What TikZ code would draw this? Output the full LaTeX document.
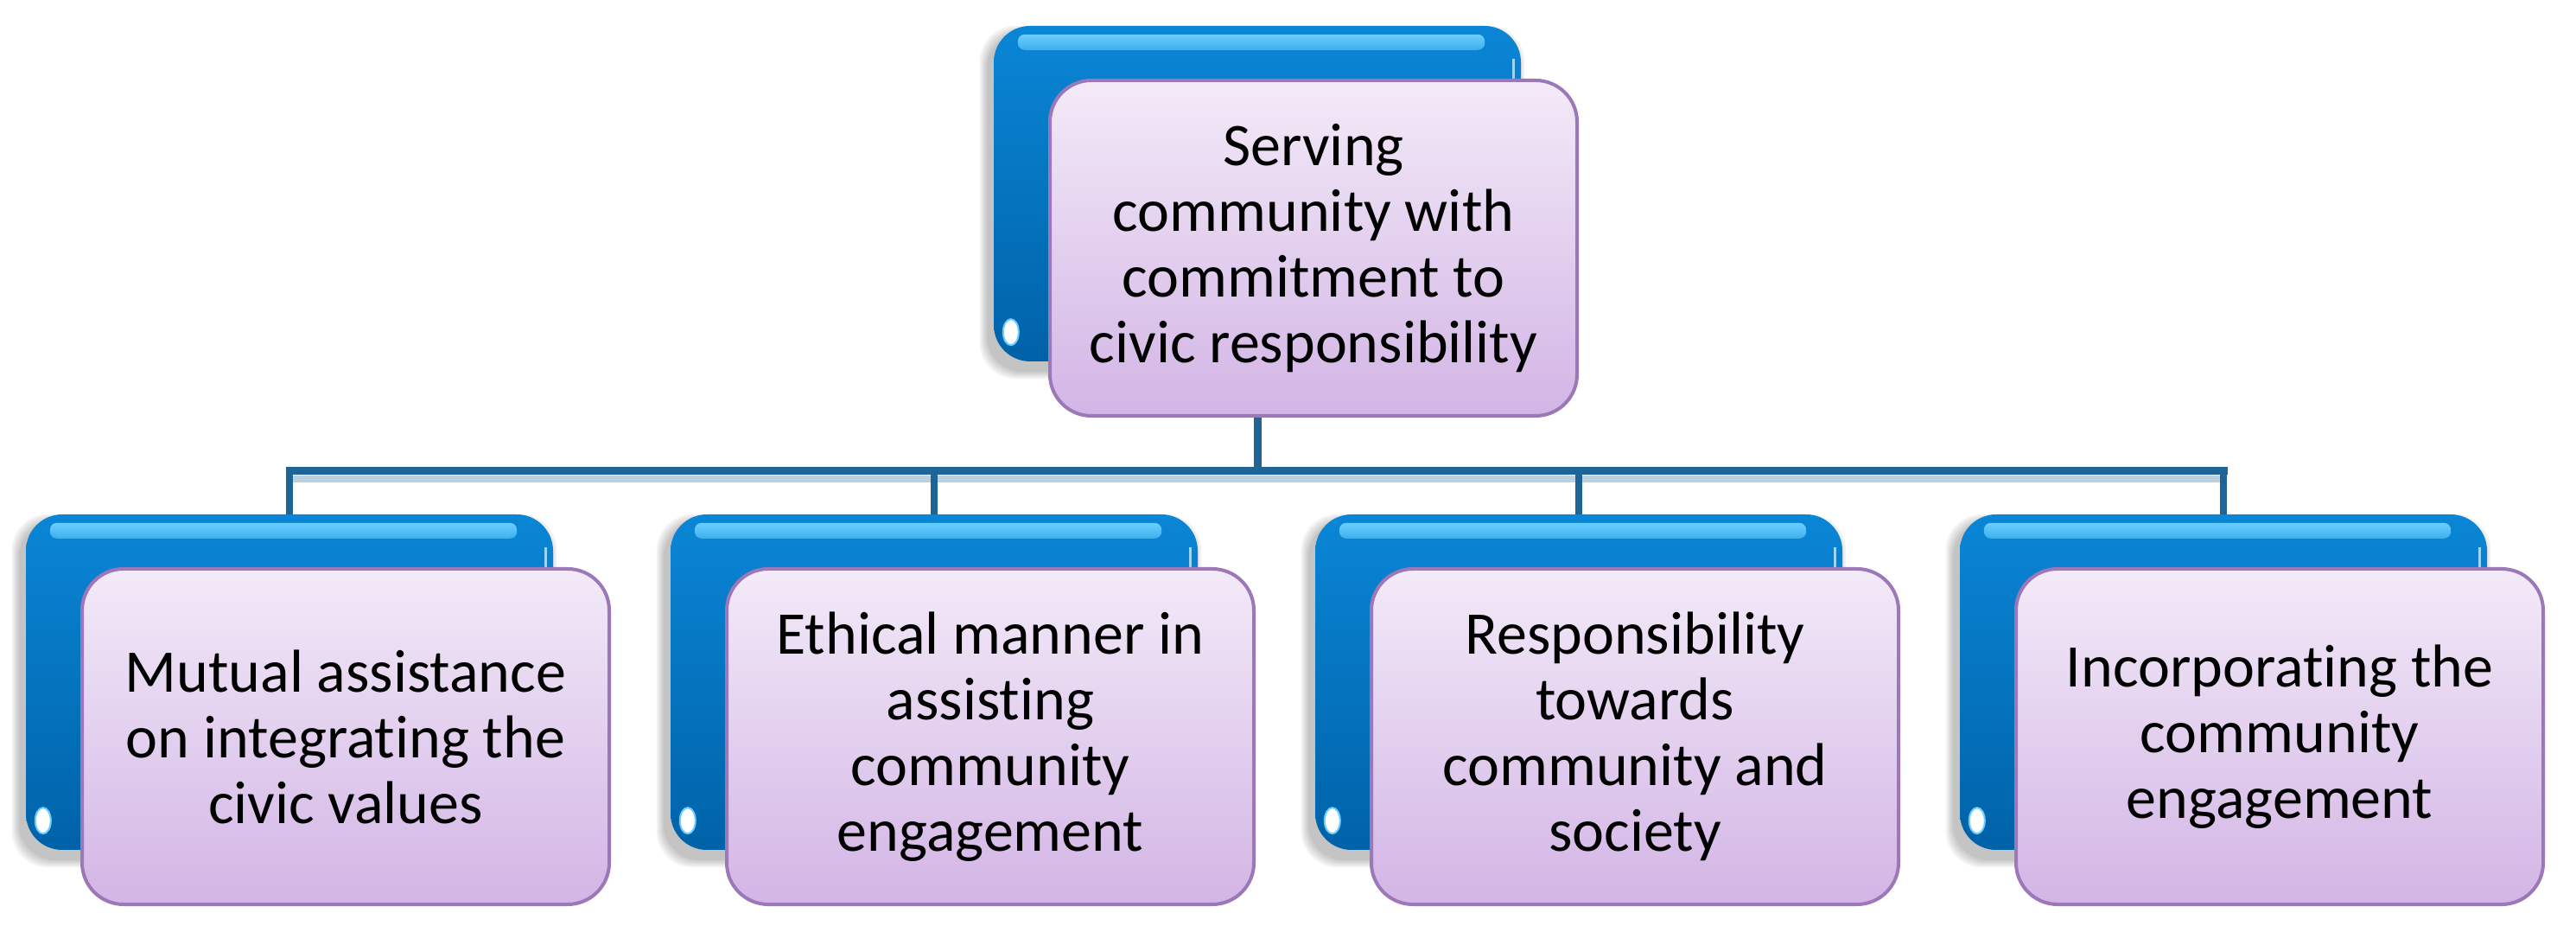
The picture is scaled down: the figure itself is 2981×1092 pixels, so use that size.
\documentclass[tikz,border=0pt]{standalone}
\usepackage{fontspec}
\setmainfont{Carlito}[Ligatures={NoCommon}]
\usetikzlibrary{backgrounds}
\definecolor{bluetop}{HTML}{0A86D6}
\definecolor{bluebot}{HTML}{0062A8}
\definecolor{hilite}{HTML}{6ACFFF}
\definecolor{purptop}{HTML}{F3EAF8}
\definecolor{purpbot}{HTML}{D2B5E5}
\definecolor{purpline}{HTML}{9C78B8}
\definecolor{conn}{HTML}{1E6497}
\tikzset{
 backbox/.style={minimum width=610pt, minimum height=388pt, rounded corners=42pt, inner sep=0pt, top color=bluetop, bottom color=bluebot, draw=none},
 frontbox/.style={minimum width=610pt, minimum height=388pt, rounded corners=48pt, inner sep=0pt, top color=purptop, bottom color=purpbot, draw=purpline, line width=4pt, align=center, font=\fontsize{70}{76}\selectfont, text=black},
 link/.style={draw=conn, line width=9pt},
 strip/.style={rounded corners=8pt, top color=hilite, bottom color=hilite!55!bluetop, draw=none},
 gloss/.style={fill=white, draw=hilite, line width=2pt},
}
\newcommand{\boxpair}[4]{%
  \node[backbox] (#1) at (#3) {};
  \path[strip] ([xshift=28pt,yshift=-10pt]#1.north west) rectangle ([xshift=-42pt,yshift=-28pt]#1.north east);
  \draw[hilite!40!white, line width=3pt, opacity=.8] ([xshift=-9pt,yshift=-38pt]#1.north east) -- ([xshift=-9pt,yshift=-62pt]#1.north east);
  \path[gloss] ([xshift=20pt,yshift=34pt]#1.south west) ellipse [x radius=9pt, y radius=15pt];
  \begin{scope}[on background layer]
    \foreach \k in {1,...,5} {
      \fill[black, opacity=.05, rounded corners=42pt]
        ([xshift=-6pt-\k*2pt,yshift=-10pt-\k*2pt]#1.south west) rectangle ([xshift=-6pt+\k*2pt,yshift=-10pt+\k*2pt]#1.north east);
    }
  \end{scope}
  \node[frontbox] (#2) at ([xshift=65pt,yshift=-63pt]#1.center) {#4};
}
\begin{document}
\begin{tikzpicture}[x=1pt,y=1pt]
\useasboundingbox (0,0) rectangle (2981,1092);
\boxpair{tb}{tp}{1455,868}{Serving\\community with\\commitment to\\civic responsibility}
\boxpair{b1}{p1}{335,303}{Mutual assistance\\on integrating the\\civic values}
\boxpair{b2}{p2}{1081,303}{Ethical manner in\\assisting\\community\\engagement}
\boxpair{b3}{p3}{1827,303}{Responsibility\\towards\\community and\\society}
\boxpair{b4}{p4}{2573,303}{Incorporating the\\community\\engagement}
\coordinate (bus) at (1455,547);
\begin{scope}[on background layer]
  \draw[conn!30, line width=8pt] ([yshift=-9pt]b1.north |- bus) -- ([yshift=-9pt]b4.north |- bus);
\end{scope}
\draw[link] (tb.center |- tp.south) -- (tb.center |- bus);
\draw[link] ([xshift=-4.5pt]b1.north |- bus) -- ([xshift=4.5pt]b4.north |- bus);
\draw[link, line width=8pt] (b1.north |- bus) -- (b1.north);
\draw[link, line width=8pt] (b2.north |- bus) -- (b2.north);
\draw[link, line width=8pt] (b3.north |- bus) -- (b3.north);
\draw[link, line width=8pt] (b4.north |- bus) -- (b4.north);
\end{tikzpicture}
\end{document}
